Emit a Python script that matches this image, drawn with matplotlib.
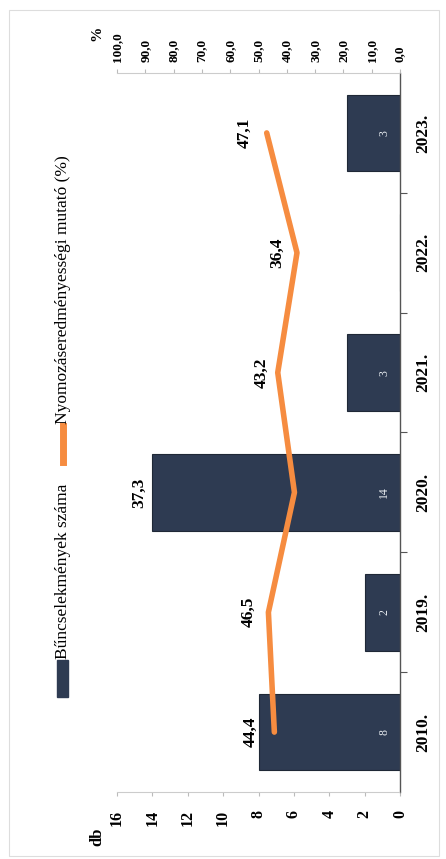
import matplotlib
matplotlib.use("Agg")
import matplotlib.pyplot as plt
from matplotlib.patches import Rectangle
from matplotlib.lines import Line2D

categories = ["2010.", "2019.", "2020.", "2021.", "2022.", "2023."]
counts = [8, 2, 14, 3, 0, 3]
rates = [44.4, 46.5, 37.3, 43.2, 36.4, 47.1]
db_ticks = [0, 2, 4, 6, 8, 10, 12, 14, 16]
pct_ticks = [0, 10, 20, 30, 40, 50, 60, 70, 80, 90, 100]
legend_labels = ["Bűncselekmények száma", "Nyomozáseredményességi mutató (%)"]

W, H = 446, 859
BAR = "#2e3b52"
ORANGE = "#f68c40"
FONT = ["Liberation Serif", "DejaVu Serif"]
plt.rcParams["font.family"] = FONT

fig = plt.figure(figsize=(W / 100, H / 100), dpi=100)

def fx(x):
    return x / W

def fy(y):
    return 1 - y / H

left, right, top, bottom = 117, 400, 73, 792
ax = fig.add_axes([fx(left), fy(bottom), fx(right - left), (bottom - top) / H])
pos = list(range(len(categories)))

ax.barh(pos, counts, height=0.64, color=BAR, edgecolor="#1f2836", linewidth=0.8, zorder=2)
ax.set_xlim(16, 0)
ax.set_ylim(-0.5, len(categories) - 0.5)

# category axis on the right
ax.yaxis.tick_right()
ax.set_yticks(pos)
ax.set_yticklabels(categories, rotation=90, va="center", ha="left",
                   fontsize=12.5, fontweight="bold")
ax.tick_params(axis="y", which="major", length=0, pad=11)
ax.set_yticks([p + 0.5 for p in pos[:-1]], minor=True)
ax.tick_params(axis="y", which="minor", length=5, color="#555555", width=0.8)

# db axis at bottom
ax.set_xticks(db_ticks)
ax.set_xticklabels([str(t) for t in db_ticks], rotation=90, fontsize=11.5,
                   fontweight="bold", va="top", ha="center")
ax.tick_params(axis="x", length=3, color="#bbbbbb", pad=10)

for s in ["top", "left"]:
    ax.spines[s].set_visible(False)
ax.spines["right"].set_color("#555555")
ax.spines["right"].set_linewidth(1.0)
ax.spines["bottom"].set_color("#cccccc")
ax.spines["bottom"].set_linewidth(0.8)
ax.spines["bottom"].set_linestyle((0, (2, 1)))

for p, c in zip(pos, counts):
    if c > 0:
        ax.annotate(str(c), (0, p), xytext=(-16, 0), textcoords="offset pixels",
                    rotation=90, color="#e8ecf0", fontsize=8.5, ha="center", va="center",
                    zorder=3)

# percent axis on top
ax2 = ax.twiny()
ax2.set_xlim(100, 0)
ax2.plot(rates, pos, color=ORANGE, lw=4, solid_capstyle="round", zorder=4)
ax2.set_xticks(pct_ticks)
ax2.set_xticklabels([f"{t:.1f}".replace(".", ",") for t in pct_ticks], rotation=90,
                    fontsize=9.5, fontweight="bold", va="bottom", ha="center")
ax2.tick_params(axis="x", length=3, color="#bbbbbb", pad=5)
for s in ["bottom", "left", "right"]:
    ax2.spines[s].set_visible(False)
ax2.spines["top"].set_color("#cccccc")
ax2.spines["top"].set_linewidth(0.8)
ax2.spines["top"].set_linestyle((0, (2, 1)))

offsets = [-24, -20, -155, -16, -20, -22]
for r, p, o in zip(rates, pos, offsets):
    ax2.annotate(f"{r:.1f}".replace(".", ","), (r, p), xytext=(o, 0),
                 textcoords="offset pixels", rotation=90, fontsize=12.5,
                 fontweight="bold", ha="center", va="center", zorder=5)

# axis titles
fig.text(fx(97), fy(837), "db", rotation=90, fontsize=12, fontweight="bold",
         ha="center", va="center")
fig.text(fx(97), fy(33), "%", rotation=90, fontsize=11, fontweight="bold",
         ha="center", va="center")

# legend (drawn rotated)
fig.patches.append(Rectangle((fx(57), fy(697)), fx(11), 37 / H, color=BAR,
                             transform=fig.transFigure))
fig.text(fx(63), fy(659), legend_labels[0], rotation=90, rotation_mode="anchor",
         ha="left", va="center", fontsize=12.5)
fig.lines.append(Line2D([fx(63), fx(63)], [fy(462), fy(426)], color=ORANGE, lw=5,
                        transform=fig.transFigure))
fig.text(fx(63), fy(424), legend_labels[1], rotation=90, rotation_mode="anchor",
         ha="left", va="center", fontsize=12.5)

# chart area border
fig.patches.append(Rectangle((fx(9), fy(856)), fx(430), 846 / H, fill=False,
                             edgecolor="#dddddd", lw=0.8, transform=fig.transFigure))

fig.savefig("out.png", dpi=100)
